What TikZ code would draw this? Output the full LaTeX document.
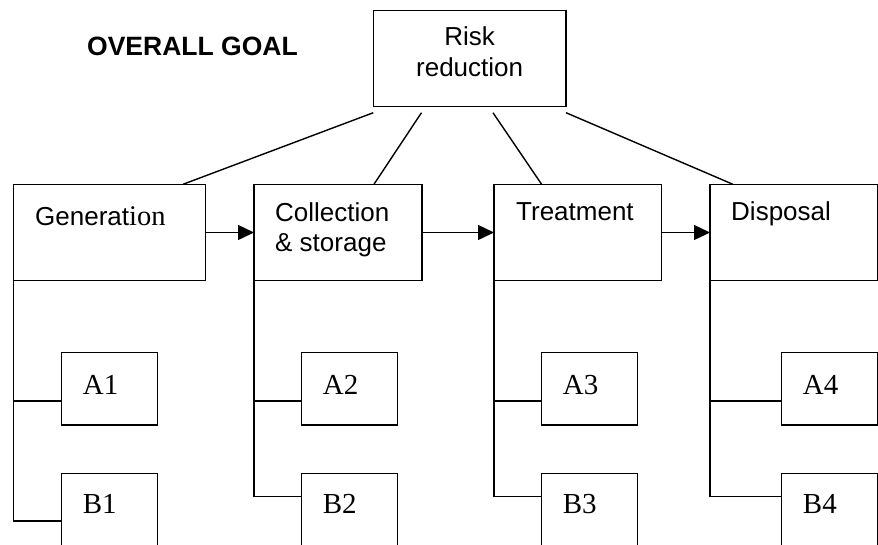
\documentclass[tikz,border=0pt]{standalone}
\usepackage{fontspec}
\setmainfont{Liberation Sans}
\newfontfamily\timesfont{Liberation Serif}
\usetikzlibrary{arrows.meta,calc}

\begin{document}
\begin{tikzpicture}[x=1pt,y=-1pt,
  box/.style={draw,line width=1.5pt,inner sep=0pt,outer sep=0pt,anchor=north west},
  stage/.style={box,minimum width=#1,minimum height=96.4pt},
  leaf/.style={box,minimum width=96pt,minimum height=72.3pt},
  conn/.style={line width=1.4pt},
  flow/.style={conn,-{Triangle[length=16pt,width=15pt]}},
  word/.style={inner sep=0pt,anchor=base west,font=\fontsize{26}{31.7}\selectfont},
  tag/.style={inner sep=0pt,anchor=base west,font=\timesfont\fontsize{29}{34}\selectfont}]

  \fill[white] (0,0) rectangle (878,544);
  \useasboundingbox (0,0) rectangle (878,544);
  \clip (0,0) rectangle (878,544);

  % heading
  \node[word,font=\bfseries\fontsize{26.5}{32}\selectfont] (goal) at (87,55) {OVERALL GOAL};

  % goal box and the four stages
  \node[stage=192.7pt,minimum height=96pt] (risk) at (373.3,10.7) {};
  \node[stage=192.4pt] (gen) at (13.3,184.3) {};
  \node[stage=168pt]   (col) at (254,184.3) {};
  \node[stage=167.7pt] (trt) at (494,184.3) {};
  \node[stage=167.3pt] (dis) at (710,184.3) {};

  % labels
  \node[word,anchor=base] (risk-t1) at ([yshift=-34.3pt]risk.north) {Risk};
  \node[word,anchor=base] (risk-t2) at ([yshift=-66pt]risk.north) {reduction};
  \node[word] (gen-t) at ([xshift=21.7pt,yshift=-41pt]gen.north west) {Generat{\timesfont\fontsize{28.5}{32}\selectfont ion}};
  \node[word] (col-t1) at ([xshift=21pt,yshift=-37pt]col.north west) {Collection};
  \node[word] (col-t2) at ([xshift=21pt,yshift=-67pt]col.north west) {\& storage};
  \node[word] (trt-t) at ([xshift=22pt,yshift=-36.4pt]trt.north west) {Treatment};
  \node[word] (dis-t) at ([xshift=21pt,yshift=-36.4pt]dis.north west) {Disposal};

  % links from the goal to the stages
  \draw[conn] ([yshift=-6pt]risk.south west) -- ($(gen.north west)!0.882!(gen.north east)$);
  \draw[conn] ([yshift=-6pt]$(risk.south west)!0.25!(risk.south east)$) -- ($(col.north west)!0.714!(col.north east)$);
  \draw[conn] ([yshift=-6pt]$(risk.south west)!0.621!(risk.south east)$) -- ($(trt.north west)!0.284!(trt.north east)$);
  \draw[conn] ([yshift=-6pt]risk.south east) -- ($(dis.north west)!0.137!(dis.north east)$);

  % sequence of stages
  \draw[flow] (gen.east) -- (col.west);
  \draw[flow] (col.east) -- (trt.west);
  \draw[flow] (trt.east) -- (dis.west);

  % sub-items under each stage
  \foreach \i/\x/\s/\d in {1/61.7/gen/47.7, 2/301.7/col/23.4, 3/541.7/trt/23.4, 4/781.7/dis/23.4} {
    \node[leaf] (a\i) at (\x,352.7) {};
    \node[leaf,minimum height=100pt] (b\i) at (\x,473.3) {};
    \node[tag] (a\i-t) at ([xshift=21pt,yshift=-41.3pt]a\i.north west) {A\i};
    \node[tag] (b\i-t) at ([xshift=21pt,yshift=-40.4pt]b\i.north west) {B\i};
    \coordinate (a\i-j) at ([yshift=-12.2pt]a\i.west);
    \coordinate (b\i-j) at ([yshift=-\d pt]b\i.north west);
    \draw[box] (\s.south west) |- (b\i-j);
    \draw[box] (a\i-j) -- (a\i-j -| \s.south west);
  }
\end{tikzpicture}
\end{document}
